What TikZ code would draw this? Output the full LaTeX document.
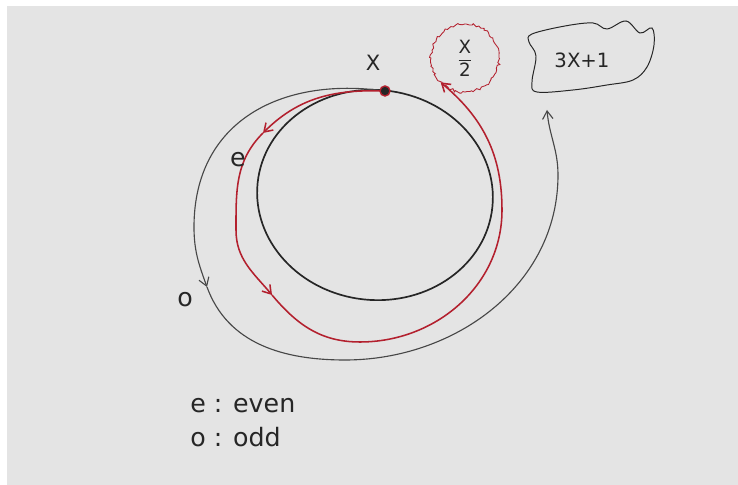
\documentclass[tikz,border=0pt]{standalone}
\usepackage{amsmath}
\usepackage{fontspec}
\setmainfont{DejaVu Sans}
\usetikzlibrary{arrows.meta,decorations.pathmorphing}
\definecolor{paper}{HTML}{E4E4E4}
\definecolor{ink}{HTML}{262626}
\definecolor{redink}{HTML}{B3202E}

\begin{document}
\begin{tikzpicture}[x=0.025cm,y=0.025cm,
  circ/.style={draw=ink,line width=1.2pt},
  oddpath/.style={draw=ink!85,line width=0.8pt},
  evenpath/.style={draw=redink,line width=1.1pt},
  lbl/.style={font=\fontsize{18}{20}\selectfont,text=ink,inner sep=0pt},
  legend/.style={font=\fontsize{18}{20}\selectfont,text=ink,inner sep=0pt,anchor=base west},
  blob/.style={circle,draw=redink,line width=0.6pt,minimum size=1.7cm,inner sep=0pt,
    font=\fontsize{13}{15}\selectfont,text=ink,decorate,
    decoration={random steps,segment length=1.6pt,amplitude=1pt}},
  >={Straight Barb[length=2mm,width=2.6mm]}]
\pgfmathsetseed{11}
\useasboundingbox (0,0) rectangle (738,485);
\fill[white] (0,0) rectangle (738,485);
\fill[paper] (7,0) rectangle (738,479);

% the loop
\draw[circ,rotate around={-6:(375,290)}] (375,290) ellipse [x radius=118, y radius=105];
\coordinate (start) at (385,394);
\node[lbl,font=\fontsize{15}{17}\selectfont] (xlbl) at (373,422) {X};

% targets
\node[blob] (half) at (465,427) {$\dfrac{\text{X}}{\text{2}}$};
\draw[ink,line width=0.7pt] plot[smooth cycle,tension=0.6] coordinates {
  (532,451) (565,459) (593,462) (607,456) (626,464) (640,452) (652,457)
  (654,440) (647,418) (633,405) (607,400) (573,395) (537,393)
  (532,403) (536,429) (529,443)};
\node[lbl,font=\fontsize{14}{16}\selectfont] (triple) at (582,425) {3X+1};
\coordinate (tip) at (547,375);

% odd path
\coordinate (ol) at (194,258);
\coordinate (ob) at (207,198);
\coordinate (obot) at (345,125);
\coordinate (or) at (558,310);
\draw[oddpath,->] (start) to[out=172,in=90,looseness=1.15] (ol)
  to[out=270,in=110] (ob);
\draw[oddpath,->] (ob) to[out=290,in=180] (obot) to[out=0,in=270] (or)
  to[out=90,in=275] (tip);
\node[lbl] (olbl) at (185,185) {o};

% even path
\coordinate (e1) at (263,352);
\coordinate (el) at (236,255);
\coordinate (e3) at (272,190);
\coordinate (ebot) at (360,143);
\coordinate (er) at (502,275);
\draw[evenpath,->] (start) to[out=178,in=45] (e1);
\draw[evenpath,->] (e1) to[out=225,in=90] (el) to[out=270,in=130] (e3);
\draw[evenpath,->] (e3) to[out=310,in=180] (ebot) to[out=0,in=270] (er)
  to[out=90,in=320] (half.225);
\node[lbl] (elbl) at (238,325) {e};

\node[circle,fill=ink,draw=redink,line width=1pt,minimum size=0.25cm,inner sep=0pt] (dot) at (start) {};

% legend
\node[legend] (leven) at (190,72) {e : even};
\node[legend] (lodd) at (190,38) {o : odd};
\end{tikzpicture}
\end{document}
